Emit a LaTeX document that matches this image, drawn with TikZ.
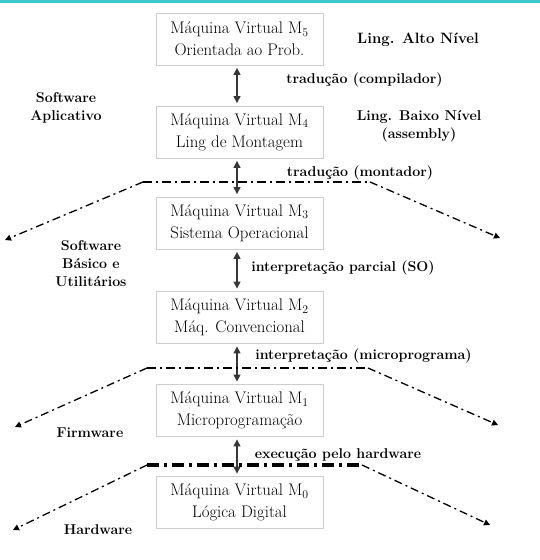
\documentclass[tikz,border=0pt]{standalone}
\usepackage{fontspec}
\setmainfont{Latin Modern Roman}
\usetikzlibrary{arrows.meta}
\definecolor{topcyan}{RGB}{60,200,205}
\definecolor{boxline}{RGB}{205,205,205}
\definecolor{arrowgray}{RGB}{55,55,55}
\tikzset{
  vm/.style={draw=boxline, line width=0.9pt, minimum width=167pt, minimum height=52pt,
    inner sep=0pt, align=center, font=\rmfamily\fontsize{16.8}{22}\selectfont},
  vlink/.style={draw=arrowgray, line width=1.3pt, {Triangle[width=7pt,length=7pt]}-{Triangle[width=7pt,length=7pt]},
    shorten <=2.5pt, shorten >=2.5pt},
  lbl/.style={font=\rmfamily\fontsize{14.2}{18.2}\selectfont\bfseries, align=center, inner sep=0pt},
  hdash/.style={line width=2pt, dash pattern=on 9pt off 4pt on 2pt off 4pt},
  hdashthick/.style={line width=3.2pt, dash pattern=on 12pt off 5pt on 3pt off 5pt},
  ddash/.style={line width=1.3pt, dash pattern=on 8pt off 4pt on 2pt off 4pt, -{Triangle[width=6pt,length=6pt]}},
}
\begin{document}
\begin{tikzpicture}[x=1pt,y=-1pt]
\useasboundingbox (0,0) rectangle (540,560);
\fill[topcyan] (0,0) rectangle (540,2.5);

% boxes
\node[vm] (m5) at (239.5,39)    {Máquina Virtual M\textsubscript{5}\\Orientada ao Prob.};
\node[vm] (m4) at (239.5,132)   {Máquina Virtual M\textsubscript{4}\\Ling de Montagem};
\node[vm] (m3) at (239.5,223)   {Máquina Virtual M\textsubscript{3}\\Sistema Operacional};
\node[vm] (m2) at (239.5,317.5) {Máquina Virtual M\textsubscript{2}\\Máq. Convencional};
\node[vm] (m1) at (239.5,410.5) {Máquina Virtual M\textsubscript{1}\\Microprogramação};
\node[vm] (m0) at (239.5,502.5) {Máquina Virtual M\textsubscript{0}\\Lógica Digital};

% vertical arrows
\draw[vlink] ([xshift=-2.5pt]m5.south) -- ([xshift=-2.5pt]m4.north);
\draw[vlink] ([xshift=-2.5pt]m4.south) -- ([xshift=-2.5pt]m3.north);
\draw[vlink] ([xshift=-2.5pt]m3.south) -- ([xshift=-2.5pt]m2.north);
\draw[vlink] ([xshift=-2.5pt]m2.south) -- ([xshift=-2.5pt]m1.north);
\draw[vlink] ([xshift=-2.5pt]m1.south) -- ([xshift=-2.5pt]m0.north);

% labels
\node[lbl, font=\rmfamily\fontsize{15}{19}\selectfont\bfseries] (alto) at (418,40) {Ling. Alto Nível};
\node[lbl] (t54) at (364.5,80) {tradução (compilador)};
\node[lbl] (swapl) at (66,108) {Software\\Aplicativo};
\node[lbl] (baixo) at (419,126) {Ling. Baixo Nível\\(assembly)};
\node[lbl] (t43) at (360,173) {tradução (montador)};
\node[lbl] (swbas) at (91,263.5) {Software\\Básico e\\Utilitários};
\node[lbl] (t32) at (343,268) {interpretação parcial (SO)};
\node[lbl] (t21) at (363.5,356) {interpretação (microprograma)};
\node[lbl] (fw) at (90,433) {Firmware};
\node[lbl] (t10) at (338,455) {execução pelo hardware};
\node[lbl] (hw) at (98,530) {Hardware};

% boundary 1
\coordinate (a1) at (143,182); \coordinate (b1) at (370,182);
\coordinate (L1) at (5,240);   \coordinate (R1) at (500,238);
\draw[hdash] (a1) -- (b1);
\draw[ddash] (a1) -- (L1);
\draw[ddash] (b1) -- (R1);
% boundary 2
\coordinate (a2) at (147,368); \coordinate (b2) at (368,368);
\coordinate (L2) at (15,427);  \coordinate (R2) at (498,425);
\draw[hdash] (a2) -- (b2);
\draw[ddash] (a2) -- (L2);
\draw[ddash] (b2) -- (R2);
% boundary 3
\coordinate (a3) at (147,465); \coordinate (b3) at (362,465);
\coordinate (L3) at (13,530);  \coordinate (R3) at (490,525);
\draw[hdashthick] (a3) -- (b3);
\draw[ddash] (a3) -- (L3);
\draw[ddash] (b3) -- (R3);
\end{tikzpicture}
\end{document}
